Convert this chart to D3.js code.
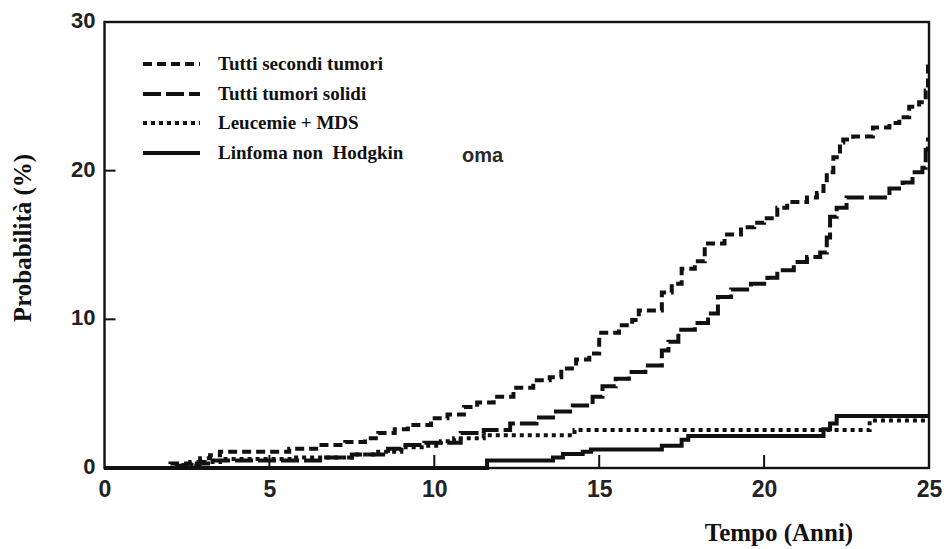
<!DOCTYPE html>
<html>
<head>
<meta charset="utf-8">
<script src="https://cdn.jsdelivr.net/npm/d3@7"></script>
<style>
  html, body { margin: 0; padding: 0; background: #fff; }
  svg { display: block; }
</style>
</head>
<body>
<svg id="chart" width="948" height="549"></svg>
<script>
// Cumulative incidence step curves: [years, percent] at each step
const tuttiSecondiTumori = [[0,0],[2.0,0.3],[2.6,0.4],[2.9,0.65],[3.2,0.85],[3.5,1.1],[5.6,1.3],[6.5,1.55],[7.3,1.75],[7.9,2.0],[8.3,2.35],[8.8,2.6],[9.2,2.9],[9.9,3.35],[10.4,3.6],[10.9,4.1],[11.3,4.4],[11.8,4.8],[12.4,5.4],[13.0,5.9],[13.5,6.1],[13.85,6.7],[14.3,7.3],[14.7,7.7],[15.0,9.1],[15.6,9.6],[16.0,9.95],[16.2,10.6],[16.9,11.8],[17.2,12.4],[17.5,13.4],[17.9,13.9],[18.2,15.1],[18.8,15.7],[19.3,16.2],[19.7,16.5],[20.0,16.8],[20.4,17.5],[20.7,17.9],[21.3,18.2],[21.6,18.5],[21.8,19.2],[21.9,19.9],[22.1,20.9],[22.3,21.9],[22.4,22.1],[22.7,22.3],[23.3,22.9],[23.8,23.2],[24.1,23.6],[24.4,24.3],[24.7,24.6],[24.9,25.4],[24.97,27.4],[25,27.4]];
const tuttiTumoriSolidi = [[0,0],[2.2,0.15],[2.8,0.3],[3.3,0.5],[6.6,0.7],[7.5,0.9],[8.6,1.3],[9.0,1.55],[9.7,1.7],[10.8,2.35],[11.5,2.55],[12.3,3.0],[13.1,3.4],[13.6,3.8],[14.2,4.2],[14.8,4.8],[15.1,5.5],[15.5,6.0],[15.9,6.45],[16.4,6.9],[16.9,7.9],[17.1,8.5],[17.4,9.3],[17.9,9.75],[18.3,10.4],[18.6,11.5],[19.0,12.0],[19.6,12.4],[20.1,12.8],[20.4,13.3],[20.9,13.85],[21.3,14.2],[21.7,14.5],[21.9,15.5],[22.0,16.9],[22.2,17.5],[22.5,18.2],[23.8,18.8],[24.2,19.2],[24.5,19.9],[24.8,20.2],[24.9,21.4],[24.97,22.1],[25,22.1]];
const leucemieMDS = [[0,0],[2.3,0.2],[3.0,0.4],[3.5,0.6],[5.7,0.7],[7.5,0.9],[8.3,1.1],[9.0,1.4],[9.7,1.5],[10.2,1.8],[10.6,2.0],[11.5,2.2],[14.25,2.55],[23.2,3.2],[24.9,3.2]];
const linfomaNonHodgkin = [[0,0],[11.6,0.5],[13.6,0.7],[13.9,0.95],[14.5,1.1],[14.75,1.25],[16.9,1.5],[17.5,1.9],[17.7,2.15],[21.8,2.6],[22.0,3.0],[22.2,3.5],[25,3.5]];

const seriesNames = ["Tutti secondi tumori", "Tutti tumori solidi", "Leucemie + MDS", "Linfoma non  Hodgkin"];
const seriesData = [tuttiSecondiTumori, tuttiTumoriSolidi, leucemieMDS, linfomaNonHodgkin];
const seriesDash = ["9,5", "18,5", "4,4", null];

const xTicks = [0, 5, 10, 15, 20, 25];
const yTicks = [0, 10, 20, 30];
const xInnerTicks = [5, 10, 15, 20];
const yInnerTicks = [10, 20];

const svg = d3.select("#chart");
const x = d3.scaleLinear().domain([0, 25]).range([104.5, 929]);
const y = d3.scaleLinear().domain([0, 30]).range([468, 22]);

const ink = "#111";

// plot frame
svg.append("rect")
  .attr("x", x(0)).attr("y", y(30))
  .attr("width", x(25) - x(0)).attr("height", y(0) - y(30))
  .attr("fill", "none").attr("stroke", ink).attr("stroke-width", 2.4);

// inward ticks
svg.append("g").selectAll("line").data(xInnerTicks).join("line")
  .attr("x1", d => x(d)).attr("x2", d => x(d))
  .attr("y1", y(0)).attr("y2", y(0) - 13)
  .attr("stroke", ink).attr("stroke-width", 2);
svg.append("g").selectAll("line").data(yInnerTicks).join("line")
  .attr("x1", x(0)).attr("x2", x(0) + 11)
  .attr("y1", d => y(d)).attr("y2", d => y(d))
  .attr("stroke", ink).attr("stroke-width", 2);

// axis labels
const xAxis = svg.append("g")
  .attr("transform", `translate(0,${y(0)})`)
  .call(d3.axisBottom(x).tickValues(xTicks).tickSize(0).tickPadding(13).tickFormat(d3.format("d")));
xAxis.select(".domain").remove();
xAxis.selectAll("text")
  .attr("font-family", "'Liberation Sans', Arial, sans-serif")
  .attr("font-weight", "bold")
  .attr("font-size", 23).attr("fill", "#222");

const yAxis = svg.append("g")
  .attr("transform", `translate(${x(0)},0)`)
  .call(d3.axisLeft(y).tickValues(yTicks).tickSize(0).tickPadding(9).tickFormat(d3.format("d")));
yAxis.select(".domain").remove();
yAxis.selectAll("text")
  .attr("font-family", "'Liberation Sans', Arial, sans-serif")
  .attr("font-weight", "bold")
  .attr("font-size", 22).attr("fill", "#222")
  .attr("dy", "0.25em");

// step curves
const line = d3.line()
  .x(d => x(d[0])).y(d => y(d[1]))
  .curve(d3.curveStepAfter);

svg.append("g").selectAll("path").data(seriesData).join("path")
  .attr("d", line)
  .attr("fill", "none")
  .attr("stroke", ink)
  .attr("stroke-width", 4)
  .attr("stroke-dasharray", (d, i) => seriesDash[i]);

// leftover label fragment beside the legend
svg.append("text")
  .attr("x", 462).attr("y", 162)
  .attr("font-family", "'Liberation Sans', Arial, sans-serif")
  .attr("font-weight", "bold")
  .attr("font-size", 20).attr("fill", "#2a2a2a")
  .text("oma");

// legend
const legendY = [64, 94, 123, 153];
const legend = svg.append("g");
legend.selectAll("line").data(seriesNames).join("line")
  .attr("x1", 143).attr("x2", 200)
  .attr("y1", (d, i) => legendY[i]).attr("y2", (d, i) => legendY[i])
  .attr("stroke", ink).attr("stroke-width", 4)
  .attr("stroke-dasharray", (d, i) => seriesDash[i]);
legend.selectAll("text").data(seriesNames).join("text")
  .attr("x", 218).attr("y", (d, i) => legendY[i] + 6)
  .attr("font-family", "'Liberation Serif', 'Times New Roman', serif")
  .attr("font-weight", "bold").attr("font-size", 19)
  .attr("fill", ink)
  .style("white-space", "pre")
  .attr("xml:space", "preserve")
  .text(d => d);

// axis titles
svg.append("text")
  .attr("transform", "translate(31,238) rotate(-90)")
  .attr("text-anchor", "middle")
  .attr("font-family", "'Liberation Serif', 'Times New Roman', serif")
  .attr("font-weight", "bold").attr("font-size", 25)
  .attr("fill", ink)
  .text("Probabilità (%)");

svg.append("text")
  .attr("x", 779).attr("y", 541)
  .attr("text-anchor", "middle")
  .attr("font-family", "'Liberation Serif', 'Times New Roman', serif")
  .attr("font-weight", "bold").attr("font-size", 25)
  .attr("fill", ink)
  .text("Tempo (Anni)");
</script>
</body>
</html>
